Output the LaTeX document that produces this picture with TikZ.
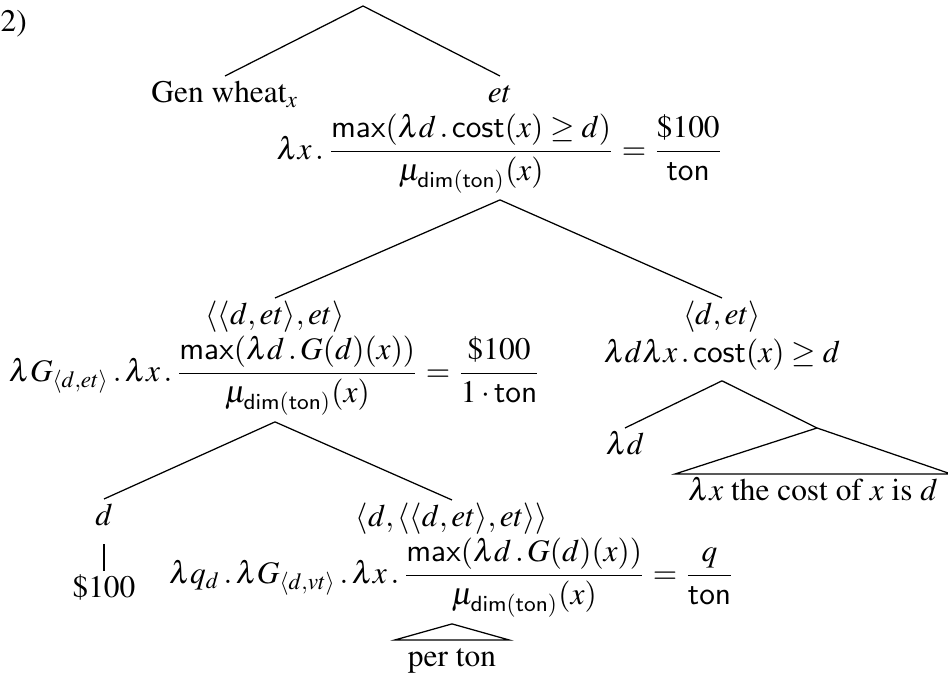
\documentclass[tikz,border=0pt]{standalone}
\usepackage[T1]{fontenc}
\usepackage{amsmath}
\usepackage{mathptmx}
\usepackage{tikz}
\newcommand{\tlbl}[1]{\begin{tabular}{@{}c@{}}#1\end{tabular}}

\begin{document}
\begin{tikzpicture}[x=0.0112cm, y=-0.0112cm,
  tnode/.style={anchor=north, inner sep=0pt},
  roofnode/.style={tnode, inner xsep=4pt},
  tline/.style={line width=0.4pt}]
\useasboundingbox (0,0) rectangle (948,679);

\node[anchor=base west, inner sep=0pt] (num) at (0,32) {2)};

% Top of the tree
\coordinate (root) at (363,6);
\node[tnode] (gen) at (225,76) {\tlbl{Gen wheat$_x$}};
\node[tnode] (m1) at (500,76) {\tlbl{$et$\\
  $\lambda x\,.\,\dfrac{\mathsf{max}(\lambda d\,.\,\mathsf{cost}(x)\geq d)}{\mu_{\mathsf{dim(ton)}}(x)}=\dfrac{\$100}{\mathsf{ton}}$}};
\draw[tline] (root) -- (gen.north);
\draw[tline] (root) -- (m1.north);

% Second level
\node[tnode] (m1l) at (275,298) {\tlbl{$\langle\langle d,et\rangle,et\rangle$\\
  $\lambda G_{\langle d,et\rangle}\,.\,\lambda x\,.\,\dfrac{\mathsf{max}(\lambda d\,.\,G(d)(x))}{\mu_{\mathsf{dim(ton)}}(x)}=\dfrac{\$100}{1\cdot\mathsf{ton}}$}};
\node[tnode] (m1r) at (722,298) {\tlbl{$\langle d,et\rangle$\\
  $\lambda d\lambda x\,.\,\mathsf{cost}(x)\geq d$}};
\draw[tline] ([yshift=-2pt]m1.south) -- (m1l.north);
\draw[tline] ([yshift=-2pt]m1.south) -- (m1r.north);

% Right branch with roof
\node[tnode] (ld) at (625,428) {\tlbl{$\lambda d$}};
\coordinate (cr) at (817,428);
\node[roofnode] (cost) at (813,474) {\tlbl{$\lambda x$ the cost of $x$ is $d$}};
\draw[tline] ([yshift=-2pt]m1r.south) -- (ld.north);
\draw[tline] ([yshift=-2pt]m1r.south) -- (cr);
\draw[tline] (cr) -- (cost.north west) -- (cost.north east) -- cycle;

% Left branch
\node[tnode] (dd) at (104,499) {\tlbl{$d$}};
\node[tnode] (s100) at (104,571) {\tlbl{\$100}};
\node[tnode] (bq) at (452,500) {\tlbl{$\langle d,\langle\langle d,et\rangle,et\rangle\rangle$\\
  $\lambda q_d\,.\,\lambda G_{\langle d,vt\rangle}\,.\,\lambda x\,.\,\dfrac{\mathsf{max}(\lambda d\,.\,G(d)(x))}{\mu_{\mathsf{dim(ton)}}(x)}=\dfrac{q}{\mathsf{ton}}$}};
\node[roofnode] (per) at (452,640) {\tlbl{per ton}};
\draw[tline] ([yshift=-2pt]m1l.south) -- (dd.north);
\draw[tline] ([yshift=-2pt]m1l.south) -- (bq.north);
\draw[tline] ([yshift=-2pt]dd.south) -- (s100.north);
\draw[tline] ([yshift=-2pt]bq.south) -- (per.north west) -- (per.north east) -- cycle;
\end{tikzpicture}
\end{document}
